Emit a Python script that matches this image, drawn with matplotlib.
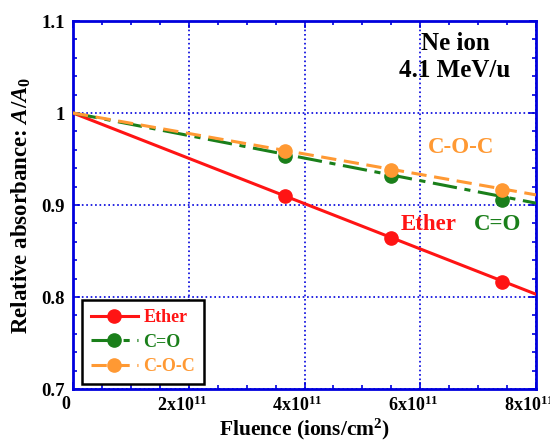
import numpy as np
import matplotlib
matplotlib.use('Agg')
import matplotlib.pyplot as plt
import matplotlib.transforms as mtransforms
from matplotlib.ticker import MultipleLocator, FuncFormatter

# --- data ---
names = ['Ether', 'C=O', 'C-O-C']
colors = ['#ff1414', '#1a7f1a', '#ff9933']
styles = ['-', (0, (8, 2.5, 2, 2.5)), (0, (5, 2.5))]
fluence = [3.66e11, 5.5e11, 7.42e11]
ether = [0.910, 0.864, 0.816]
c_o = [0.953, 0.931, 0.905]
c_o_c = [0.959, 0.938, 0.916]
fit_x = [0.0, 8e11]
fit_end = [0.803, 0.902, 0.911]   # fit lines start at 1.0

plt.rcParams['font.family'] = 'Liberation Serif'
plt.rcParams['font.weight'] = 'bold'
plt.rcParams['mathtext.fontset'] = 'custom'
plt.rcParams['mathtext.rm'] = 'Liberation Serif:bold'
plt.rcParams['mathtext.it'] = 'Liberation Serif:bold:italic'
plt.rcParams['mathtext.bf'] = 'Liberation Serif:bold'

fig = plt.figure(figsize=(5.5, 4.41), dpi=100)
ax = fig.add_axes([73/550, 1-389/441, (536-73)/550, (389-21)/441])

blue = '#0000dd'
for i, ys in enumerate([ether, c_o, c_o_c]):
    ax.plot(fit_x, [1.0, fit_end[i]], color=colors[i], ls=styles[i], lw=2.2, zorder=3)
    ax.plot(fluence, ys, 'o', color=colors[i], ms=9.5, zorder=4)
    # legend proxy
    ax.plot([], [], color=colors[i], ls=styles[i], lw=2.2, marker='o', ms=9.5, label=names[i])

ax.set_xlim(0, 8e11)
ax.set_ylim(0.7, 1.1)
ax.xaxis.set_major_locator(MultipleLocator(2e11))
ax.xaxis.set_minor_locator(MultipleLocator(0.5e11))
ax.yaxis.set_major_locator(MultipleLocator(0.1))
ax.yaxis.set_minor_locator(MultipleLocator(0.02))

def xfmt(v, pos):
    if v == 0:
        return '0'
    return r'%dx10$^{11}$' % round(v / 1e11)

def yfmt(v, pos):
    s = '%.1f' % v
    return '1' if s == '1.0' else s

ax.xaxis.set_major_formatter(FuncFormatter(xfmt))
ax.yaxis.set_major_formatter(FuncFormatter(yfmt))
ax.tick_params(which='both', direction='in', top=True, right=True, color=blue,
               labelsize=13.5, pad=6)
ax.tick_params(axis='x', labelsize=13, pad=5)
ax.tick_params(which='major', length=5, width=1.2)
ax.tick_params(which='minor', length=3, width=1.2)
# x tick labels sit a little left of their ticks
shift = mtransforms.ScaledTranslation(-7/100, 0, fig.dpi_scale_trans)
for lbl in ax.get_xticklabels():
    lbl.set_transform(lbl.get_transform() + shift)
for s in ax.spines.values():
    s.set_color(blue)
    s.set_linewidth(2)
ax.grid(True, which='major', color=blue, ls=':', lw=1.2)

ax.set_xlabel('Fluence (ions/cm$^2$)', fontsize=15.5, fontweight='bold', va='center')
ax.xaxis.set_label_coords(0.5, -0.11)
ax.set_ylabel('Relative absorbance: $A/A_0$', fontsize=16.5, fontweight='bold', labelpad=6)

ax.text(0.825, 0.902, 'Ne ion\n4.1 MeV/u', transform=ax.transAxes, ha='center', va='center',
        fontsize=18, fontweight='bold', linespacing=1.2)
ax.text(0.838, 0.655, 'C-O-C', transform=ax.transAxes, color=colors[2], ha='center', va='center',
        fontsize=16.5, fontweight='bold')
ax.text(0.767, 0.448, 'Ether', transform=ax.transAxes, color=colors[0], ha='center', va='center',
        fontsize=16.5, fontweight='bold')
ax.text(0.916, 0.448, 'C=O', transform=ax.transAxes, color=colors[1], ha='center', va='center',
        fontsize=16.5, fontweight='bold')

leg = ax.legend(loc='lower left', bbox_to_anchor=(0.019, 0.014), borderaxespad=0, fontsize=13,
                fancybox=False, framealpha=1, edgecolor='black', borderpad=0.5,
                handlelength=2.6, labelspacing=0.4, handletextpad=0.3)
leg.get_frame().set_linewidth(1.8)
for t, c in zip(leg.get_texts(), colors):
    t.set_color(c)

fig.savefig('out.png', dpi=100)
